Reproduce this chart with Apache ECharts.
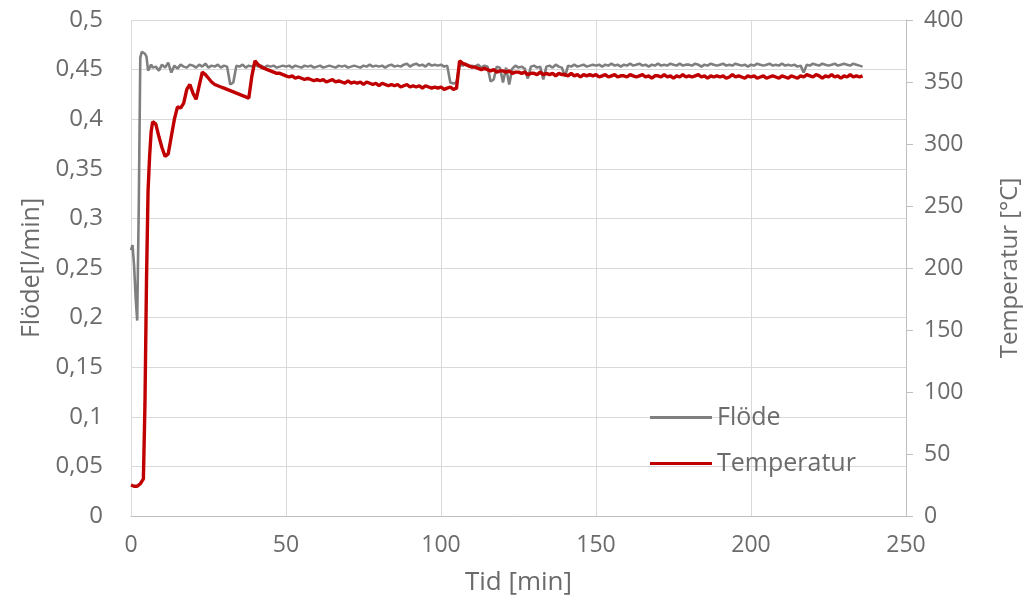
<!DOCTYPE html>
<html>
<head>
<meta charset="utf-8">
<script src="https://cdn.jsdelivr.net/npm/echarts@6/dist/echarts.min.js"></script>
<style>
  html, body { margin: 0; padding: 0; background: #ffffff; }
  #chart { width: 1023px; height: 603px; }
</style>
</head>
<body>
<div id="chart"></div>
<script>
// Tid [min]: half-minute samples during start-up, then one per minute
const tid = [
  0, 0.5, 1, 1.5, 2, 2.5, 3, 3.5, 4, 4.5, 5, 5.5, 6, 6.5, 7, 7.5,
  8, 9, 10, 11, 12, 13, 14, 15, 16, 17, 18, 19,
  20, 21, 22, 23, 24, 25, 26, 27, 28, 29,
  30, 31, 32, 33, 34, 35, 36, 37, 38, 39,
  40, 41, 42, 43, 44, 45, 46, 47, 48, 49,
  50, 51, 52, 53, 54, 55, 56, 57, 58, 59,
  60, 61, 62, 63, 64, 65, 66, 67, 68, 69,
  70, 71, 72, 73, 74, 75, 76, 77, 78, 79,
  80, 81, 82, 83, 84, 85, 86, 87, 88, 89,
  90, 91, 92, 93, 94, 95, 96, 97, 98, 99,
  100, 101, 102, 103, 104, 105, 106, 107, 108, 109,
  110, 111, 112, 113, 114, 115, 116, 117, 118, 119,
  120, 121, 122, 123, 124, 125, 126, 127, 128, 129,
  130, 131, 132, 133, 134, 135, 136, 137, 138, 139,
  140, 141, 142, 143, 144, 145, 146, 147, 148, 149,
  150, 151, 152, 153, 154, 155, 156, 157, 158, 159,
  160, 161, 162, 163, 164, 165, 166, 167, 168, 169,
  170, 171, 172, 173, 174, 175, 176, 177, 178, 179,
  180, 181, 182, 183, 184, 185, 186, 187, 188, 189,
  190, 191, 192, 193, 194, 195, 196, 197, 198, 199,
  200, 201, 202, 203, 204, 205, 206, 207, 208, 209,
  210, 211, 212, 213, 214, 215, 216, 217, 218, 219,
  220, 221, 222, 223, 224, 225, 226, 227, 228, 229,
  230, 231, 232, 233, 234, 235, 236
];

// Flöde [l/min]
const flode = [
  0.268, 0.273, 0.252, 0.22, 0.197, 0.31, 0.462, 0.468, 0.467, 0.466, 0.463, 0.449, 0.451, 0.455, 0.452, 0.450,
  0.453, 0.449, 0.455, 0.452, 0.457, 0.447, 0.454, 0.451, 0.455, 0.453, 0.452, 0.455,
  0.454, 0.452, 0.455, 0.453, 0.456, 0.452, 0.454, 0.453, 0.455, 0.452,
  0.454, 0.453, 0.435, 0.437, 0.454, 0.453, 0.455, 0.452, 0.454, 0.453,
  0.455, 0.453, 0.454, 0.452, 0.454, 0.453, 0.454, 0.452, 0.453, 0.454,
  0.453, 0.454, 0.452, 0.454, 0.453, 0.452, 0.454, 0.453, 0.454, 0.452,
  0.453, 0.454, 0.452, 0.453, 0.454, 0.453, 0.452, 0.454, 0.453, 0.454,
  0.452, 0.453, 0.454, 0.453, 0.452, 0.454, 0.453, 0.455, 0.453, 0.454,
  0.453, 0.454, 0.452, 0.454, 0.455, 0.453, 0.454, 0.453, 0.455, 0.456,
  0.453, 0.455, 0.456, 0.454, 0.455, 0.453, 0.456, 0.454, 0.455, 0.454,
  0.455, 0.453, 0.454, 0.437, 0.436, 0.437, 0.455, 0.454, 0.456, 0.453,
  0.454, 0.453, 0.455, 0.452, 0.454, 0.453, 0.438, 0.440, 0.453, 0.452,
  0.437, 0.452, 0.435, 0.451, 0.454, 0.452, 0.453, 0.451, 0.441, 0.453,
  0.454, 0.452, 0.453, 0.440, 0.453, 0.454, 0.452, 0.455, 0.453, 0.452,
  0.443, 0.454, 0.453, 0.455, 0.453, 0.454, 0.455, 0.453, 0.454, 0.455,
  0.454, 0.455, 0.453, 0.455, 0.454, 0.456, 0.454, 0.455, 0.453, 0.455,
  0.454, 0.456, 0.454, 0.455, 0.456, 0.454, 0.455, 0.453, 0.455, 0.454,
  0.456, 0.454, 0.455, 0.454, 0.456, 0.455, 0.454, 0.456, 0.454, 0.455,
  0.455, 0.454, 0.456, 0.455, 0.453, 0.455, 0.454, 0.456, 0.455, 0.454,
  0.455, 0.456, 0.454, 0.455, 0.454, 0.456, 0.455, 0.454, 0.455, 0.453,
  0.455, 0.454, 0.456, 0.455, 0.454, 0.455, 0.456, 0.454, 0.455, 0.454,
  0.456, 0.454, 0.455, 0.454, 0.455, 0.453, 0.454, 0.447, 0.455, 0.454,
  0.456, 0.455, 0.454, 0.456, 0.455, 0.454, 0.455, 0.456, 0.454, 0.455,
  0.456, 0.455, 0.454, 0.456, 0.455, 0.454, 0.453
];

// Temperatur [°C]
const temperatur = [
  25, 24, 24, 25, 24, 25, 26, 28, 30, 90, 190, 262, 290, 310, 318, 319,
  316, 306, 297, 290, 292, 306, 320, 330, 329, 333, 344, 348,
  341, 336, 347, 358, 356, 353, 350, 348, 347, 346,
  345, 344, 343, 342, 341, 340, 339, 338, 337, 355,
  367, 364, 362, 361, 360, 359, 358, 357, 357, 356,
  355, 354, 355, 353, 354, 353, 352, 353, 352, 351,
  352, 351, 352, 350, 351, 352, 350, 351, 350, 349,
  351, 349, 350, 349, 350, 348, 350, 349, 348, 349,
  347, 349, 348, 347, 348, 347, 348, 346, 347, 348,
  346, 347, 346, 347, 345, 347, 346, 345, 346, 345,
  346, 344, 345, 346, 344, 345, 367, 365, 364, 363,
  362, 362, 361, 360, 361, 360, 359, 360, 358, 359,
  359, 358, 359, 357, 358, 358, 357, 358, 356, 357,
  357, 356, 358, 356, 357, 356, 357, 355, 357, 356,
  356, 355, 357, 355, 356, 354, 356, 355, 356, 355,
  356, 354, 355, 356, 354, 355, 356, 354, 355, 355,
  354, 356, 355, 354, 355, 356, 354, 355, 353, 355,
  355, 354, 356, 354, 355, 353, 355, 354, 356, 354,
  355, 354, 355, 356, 354, 355, 353, 355, 354, 355,
  354, 355, 353, 354, 356, 354, 355, 354, 353, 355,
  354, 355, 353, 354, 355, 353, 354, 355, 354, 353,
  355, 354, 353, 355, 354, 353, 355, 354, 356, 355,
  354, 356, 355, 353, 355, 354, 356, 354, 355, 353,
  355, 354, 356, 354, 355, 354, 355
];

const FONT = '"Open Sans", "DejaVu Sans", sans-serif';
const TEXT = '#6b6b6b';
const GRID = '#d9d9d9';
const AXIS = '#bfbfbf';

const comma = v => String(+Number(v).toFixed(2)).replace('.', ',');

const chart = echarts.init(document.getElementById('chart'), null, { renderer: 'canvas' });

chart.setOption({
  animation: false,
  backgroundColor: '#ffffff',
  textStyle: { fontFamily: FONT },
  grid: { left: 131, right: 117, top: 20, bottom: 87, containLabel: false, outerBoundsMode: 'none' },
  legend: {
    orient: 'vertical',
    left: 645,
    top: 400,
    itemWidth: 62,
    itemHeight: 14,
    itemGap: 21,
    textStyle: { fontFamily: FONT, fontSize: 25, color: TEXT },
    data: [
      { name: 'Flöde', icon: 'path://M0,0 L62,0 L62,3 L0,3 Z', itemStyle: { color: '#7f7f7f' } },
      { name: 'Temperatur', icon: 'path://M0,0 L62,0 L62,3 L0,3 Z', itemStyle: { color: '#c00000' } }
    ]
  },
  xAxis: {
    type: 'value',
    min: 0,
    max: 250,
    interval: 50,
    name: 'Tid [min]',
    nameLocation: 'middle',
    nameGap: 54,
    nameTextStyle: { fontFamily: FONT, fontSize: 26, color: TEXT },
    axisLine: { show: true, lineStyle: { color: AXIS, width: 1 } },
    axisTick: { show: false },
    axisLabel: { fontFamily: FONT, fontSize: 23, color: TEXT, margin: 18 },
    splitLine: { show: true, lineStyle: { color: GRID, width: 1 } }
  },
  yAxis: [
    {
      type: 'value',
      min: 0,
      max: 0.5,
      interval: 0.05,
      position: 'left',
      name: 'Flöde[l/min]',
      nameLocation: 'middle',
      nameGap: 86,
      nameTextStyle: { fontFamily: FONT, fontSize: 25, color: TEXT },
      axisLine: { show: false },
      axisTick: { show: false },
      axisLabel: { fontFamily: FONT, fontSize: 24, color: TEXT, margin: 28, formatter: comma },
      splitLine: { show: true, lineStyle: { color: GRID, width: 1 } }
    },
    {
      type: 'value',
      min: 0,
      max: 400,
      interval: 50,
      position: 'right',
      name: 'Temperatur [°C]',
      nameLocation: 'middle',
      nameGap: 92,
      nameTextStyle: { fontFamily: FONT, fontSize: 24, color: TEXT },
      axisLine: { show: true, lineStyle: { color: AXIS, width: 1 } },
      axisTick: { show: true, inside: false, length: 7, lineStyle: { color: AXIS } },
      axisLabel: { fontFamily: FONT, fontSize: 23, color: TEXT, margin: 18 },
      splitLine: { show: false }
    }
  ],
  series: [
    {
      name: 'Flöde',
      type: 'line',
      yAxisIndex: 0,
      symbol: 'none',
      showSymbol: false,
      lineStyle: { color: '#7f7f7f', width: 2.6 },
      itemStyle: { color: '#7f7f7f' },
      data: tid.map((t, i) => [t, flode[i]])
    },
    {
      name: 'Temperatur',
      type: 'line',
      yAxisIndex: 1,
      symbol: 'none',
      showSymbol: false,
      lineStyle: { color: '#c00000', width: 3.4 },
      itemStyle: { color: '#c00000' },
      data: tid.map((t, i) => [t, temperatur[i]])
    }
  ]
});
</script>
</body>
</html>
